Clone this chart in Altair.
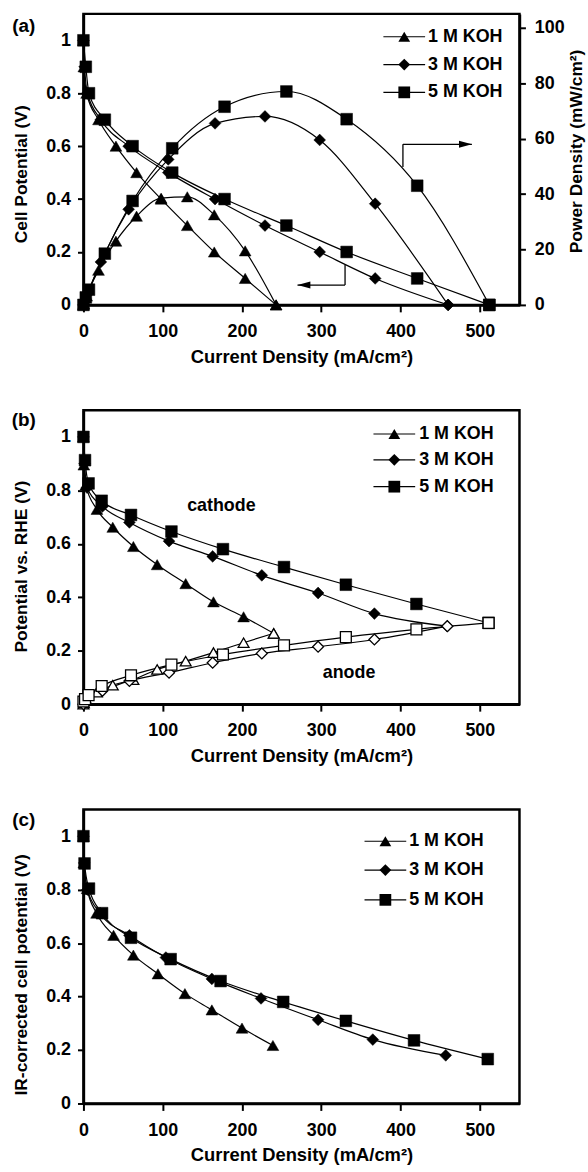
import altair as alt
import pandas as pd

FONT = "Liberation Sans"
SERIES = ["1 M KOH", "3 M KOH", "5 M KOH"]
SHAPES = ["triangle-up", "M0,-1L1,0L0,1L-1,0Z", "square"]
X_TICKS = [0, 100, 200, 300, 400, 500]
V_TICKS = [0, 0.2, 0.4, 0.6, 0.8, 1.0]
P_TICKS = [0, 20, 40, 60, 80, 100]
X_TITLE = "Current Density (mA/cm²)"

# ---------------- panel (a): cell potential and power density ----------------
A_I_1M = [0, 0.5, 4, 19, 41, 67, 98, 131, 165, 204, 243]
A_V_1M = [1.0, 0.9, 0.8, 0.7, 0.6, 0.5, 0.4, 0.3, 0.2, 0.1, 0.0]
A_P_1M = [0, 0.4, 3.2, 12.5, 23, 32, 38.5, 39, 32.5, 19.5, 0]
A_I_3M = [0, 1.5, 5, 22, 57, 107, 166, 229, 298, 368, 460]
A_V_3M = [1.0, 0.9, 0.8, 0.7, 0.6, 0.5, 0.4, 0.3, 0.2, 0.1, 0.0]
A_P_3M = [0, 1.4, 4, 15.5, 34.5, 52.5, 65.5, 68, 59.5, 36.5, 0]
A_I_5M = [0, 3, 7, 27, 62, 112, 178, 256, 332, 421, 512]
A_V_5M = [1.0, 0.9, 0.8, 0.7, 0.6, 0.5, 0.4, 0.3, 0.2, 0.1, 0.0]
A_P_5M = [0, 2.7, 5.5, 18.5, 37.5, 56.5, 71.5, 77, 67, 43, 0]

# arrows (data units: current density, cell potential)
ARROW_X1 = [330, 330, 403, 403]
ARROW_X2 = [330, 270, 403, 490]
ARROW_V1 = [0.151, 0.075, 0.521, 0.607]
ARROW_V2 = [0.075, 0.075, 0.607, 0.607]
HEAD_LEFT_X, HEAD_LEFT_V = [270], [0.075]
HEAD_RIGHT_X, HEAD_RIGHT_V = [490], [0.607]

# ---------------- panel (b): electrode potentials ----------------
B_I_1M = [0, 0.5, 3, 17, 37, 63, 93, 129, 164, 202, 240]
B_CAT_1M = [1.0, 0.895, 0.82, 0.729, 0.662, 0.59, 0.522, 0.451, 0.383, 0.327, 0.265]
B_AN_1M = [0.0, 0.005, 0.02, 0.045, 0.071, 0.092, 0.13, 0.161, 0.193, 0.23, 0.265]
B_I_3M = [0, 1.5, 4.6, 24, 58, 108, 163, 225, 296, 367, 459]
B_CAT_3M = [1.0, 0.9, 0.81, 0.74, 0.68, 0.61, 0.553, 0.482, 0.416, 0.339, 0.292]
B_AN_3M = [0.0, 0.01, 0.025, 0.05, 0.087, 0.118, 0.155, 0.19, 0.215, 0.242, 0.292]
B_I_5M = [0, 2, 6.5, 23, 60, 111, 176, 253, 331, 420, 511]
B_CAT_5M = [1.0, 0.913, 0.826, 0.761, 0.708, 0.646, 0.58, 0.513, 0.447, 0.375, 0.304]
B_AN_5M = [0.01, 0.019, 0.034, 0.068, 0.108, 0.148, 0.186, 0.22, 0.251, 0.28, 0.304]
B_LABELS = ["cathode", "anode"]
B_LABEL_X = [174, 335]
B_LABEL_V = [0.743, 0.116]

# ---------------- panel (c): IR-corrected ----------------
C_I_1M = [0, 0.5, 4.6, 16.6, 38, 63, 94, 128, 162, 200, 239]
C_V_1M = [1.0, 0.9, 0.804, 0.712, 0.629, 0.555, 0.485, 0.411, 0.35, 0.282, 0.217]
C_I_3M = [0, 1, 5, 21, 58, 104, 162, 224, 296, 365, 457]
C_V_3M = [1.0, 0.9, 0.8, 0.712, 0.629, 0.546, 0.466, 0.393, 0.313, 0.239, 0.18]
C_I_5M = [0, 1.4, 7, 23.5, 60, 110, 173, 252, 331, 417, 510]
C_V_5M = [1.0, 0.898, 0.804, 0.712, 0.62, 0.54, 0.458, 0.38, 0.309, 0.236, 0.166]


def long_df(xs_list, ys_list, yname):
    rows = []
    for s, xs, ys in zip(SERIES, xs_list, ys_list):
        for x, y in zip(xs, ys):
            rows.append({"i": x, yname: y, "series": s})
    return pd.DataFrame(rows)


def xenc(title_y=52):
    return alt.X("i:Q", scale=alt.Scale(domain=[0, 550], nice=False, zero=False),
                 axis=alt.Axis(values=X_TICKS, title=X_TITLE, titleY=title_y))


def venc(title, title_y):
    return alt.Y("v:Q", scale=alt.Scale(domain=[0, 1.1], nice=False),
                 axis=alt.Axis(values=V_TICKS, format="~g", title=title, titleY=title_y))


SHAPE_ENC = alt.Shape("series:N", scale=alt.Scale(domain=SERIES, range=SHAPES), legend=None)


def curve_layers(df, yenc, open_markers=False, xt=52):
    base = alt.Chart(df)
    line = base.mark_line(color="black", strokeWidth=1.2, interpolate="monotone").encode(
        x=xenc(xt), y=yenc, detail="series:N")
    if open_markers:
        pts = base.mark_point(filled=True, fill="white", stroke="black", strokeWidth=1.3,
                              opacity=1, size=120)
    else:
        pts = base.mark_point(filled=True, fill="black", stroke="black", strokeWidth=0.5,
                              opacity=1, size=140)
    pts = pts.encode(x=xenc(xt), y=yenc, shape=SHAPE_ENC)
    return [line, pts]


ONE = pd.DataFrame({"k": [0]})


def legend_layers(x0, x1, xt, ys):
    layers = []
    xm = (x0 + x1) / 2
    for s, shp, y in zip(SERIES, SHAPES, ys):
        layers.append(alt.Chart(ONE).mark_rule(color="black", strokeWidth=1.2).encode(
            x=alt.value(x0), x2=alt.value(x1), y=alt.value(y)))
        layers.append(alt.Chart(ONE).mark_point(shape=shp, filled=True, color="black",
                                                opacity=1, size=140).encode(
            x=alt.value(xm), y=alt.value(y)))
        layers.append(alt.Chart(ONE).mark_text(text=s, align="left", baseline="middle",
                                               font=FONT, fontSize=18, fontWeight="bold",
                                               color="black").encode(
            x=alt.value(xt), y=alt.value(y)))
    return layers


def panel_letter(txt, y):
    return alt.Chart(ONE).mark_text(text=txt, align="center", baseline="middle", font=FONT,
                                    fontSize=19, fontWeight="bold", color="black").encode(
        x=alt.value(-60), y=alt.value(y))


W = 439

# ---- panel (a)
dfA_V = long_df([A_I_1M, A_I_3M, A_I_5M], [A_V_1M, A_V_3M, A_V_5M], "v")
dfA_P = long_df([A_I_1M, A_I_3M, A_I_5M], [A_P_1M, A_P_3M, A_P_5M], "p")
yV_a = venc("Cell Potential (V)", 161)
yP_a = alt.Y("p:Q", scale=alt.Scale(domain=[0, 105], nice=False),
             axis=alt.Axis(orient="right", values=P_TICKS, title="Power Density (mW/cm²)",
                           titleAngle=270, titleX=57, titleY=138, titleBaseline="middle",
                           labelPadding=9))

arrows = pd.DataFrame({"i": ARROW_X1, "i2": ARROW_X2, "v": ARROW_V1, "v2": ARROW_V2})
arrow_rules = alt.Chart(arrows).mark_rule(color="black", strokeWidth=1.3).encode(
    x=xenc(), x2="i2:Q", y=yV_a, y2="v2:Q")
head_l = alt.Chart(pd.DataFrame({"i": HEAD_LEFT_X, "v": HEAD_LEFT_V})).mark_point(
    shape="M0,0L2,-0.55L2,0.55Z", filled=True, color="black", opacity=1, size=169).encode(
    x=xenc(), y=yV_a)
head_r = alt.Chart(pd.DataFrame({"i": HEAD_RIGHT_X, "v": HEAD_RIGHT_V})).mark_point(
    shape="M0,0L-2,-0.55L-2,0.55Z", filled=True, color="black", opacity=1, size=169).encode(
    x=xenc(), y=yV_a)

layerV = alt.layer(*curve_layers(dfA_V, yV_a), arrow_rules, head_l, head_r,
                   *legend_layers(302, 344, 347, [23, 51, 79]), panel_letter("(a)", 12))
layerP = alt.layer(*curve_layers(dfA_P, yP_a))
A = alt.layer(layerV, layerP).resolve_scale(y="independent").properties(width=W, height=293)

# ---- panel (b)
dfB_C = long_df([B_I_1M, B_I_3M, B_I_5M], [B_CAT_1M, B_CAT_3M, B_CAT_5M], "v")
dfB_A = long_df([B_I_1M, B_I_3M, B_I_5M], [B_AN_1M, B_AN_3M, B_AN_5M], "v")
yB = venc("Potential vs. RHE (V)", 157)
btext = alt.Chart(pd.DataFrame({"i": B_LABEL_X, "v": B_LABEL_V, "t": B_LABELS})).mark_text(
    font=FONT, fontSize=18, fontWeight="bold", color="black", align="center",
    baseline="middle").encode(x=xenc(), y=yB, text="t:N")
B = alt.layer(*curve_layers(dfB_C, yB), *curve_layers(dfB_A, yB, open_markers=True), btext,
              *legend_layers(292, 334, 338, [24, 50, 77]),
              panel_letter("(b)", 10)).properties(width=W, height=296)

# ---- panel (c)
dfC = long_df([C_I_1M, C_I_3M, C_I_5M], [C_V_1M, C_V_3M, C_V_5M], "v")
yC = venc("IR-corrected cell potential (V)", 166)
C = alt.layer(*curve_layers(dfC, yC, xt=51), *legend_layers(283, 325, 328, [32, 61, 91]),
              panel_letter("(c)", 11)).properties(width=W, height=296)

chart = alt.vconcat(A, B, C, spacing=106, bounds="flush").properties(
    padding={"left": 10, "top": 8, "right": 2, "bottom": 0}, background="white"
).configure_view(stroke="black", strokeWidth=2.5).configure_axis(
    grid=False, domainColor="black", domainWidth=2.5, tickColor="black", tickWidth=2,
    tickSize=6, labelFont=FONT, labelFontSize=18, labelFontWeight="bold", labelColor="black",
    labelFlush=False, labelOverlap=False,
    titleFont=FONT, titleFontSize=18.5, titleFontWeight="bold", titleColor="black"
).configure_axisBottom(tickSize=7, labelPadding=11, titleBaseline="middle"
).configure_axisLeft(labelPadding=7, titleX=-62, titleBaseline="middle", titleFontSize=17.5
).configure_axisRight(titleFontSize=17.5)

chart.save("out.html", embed_options={"renderer": "svg", "actions": False})
